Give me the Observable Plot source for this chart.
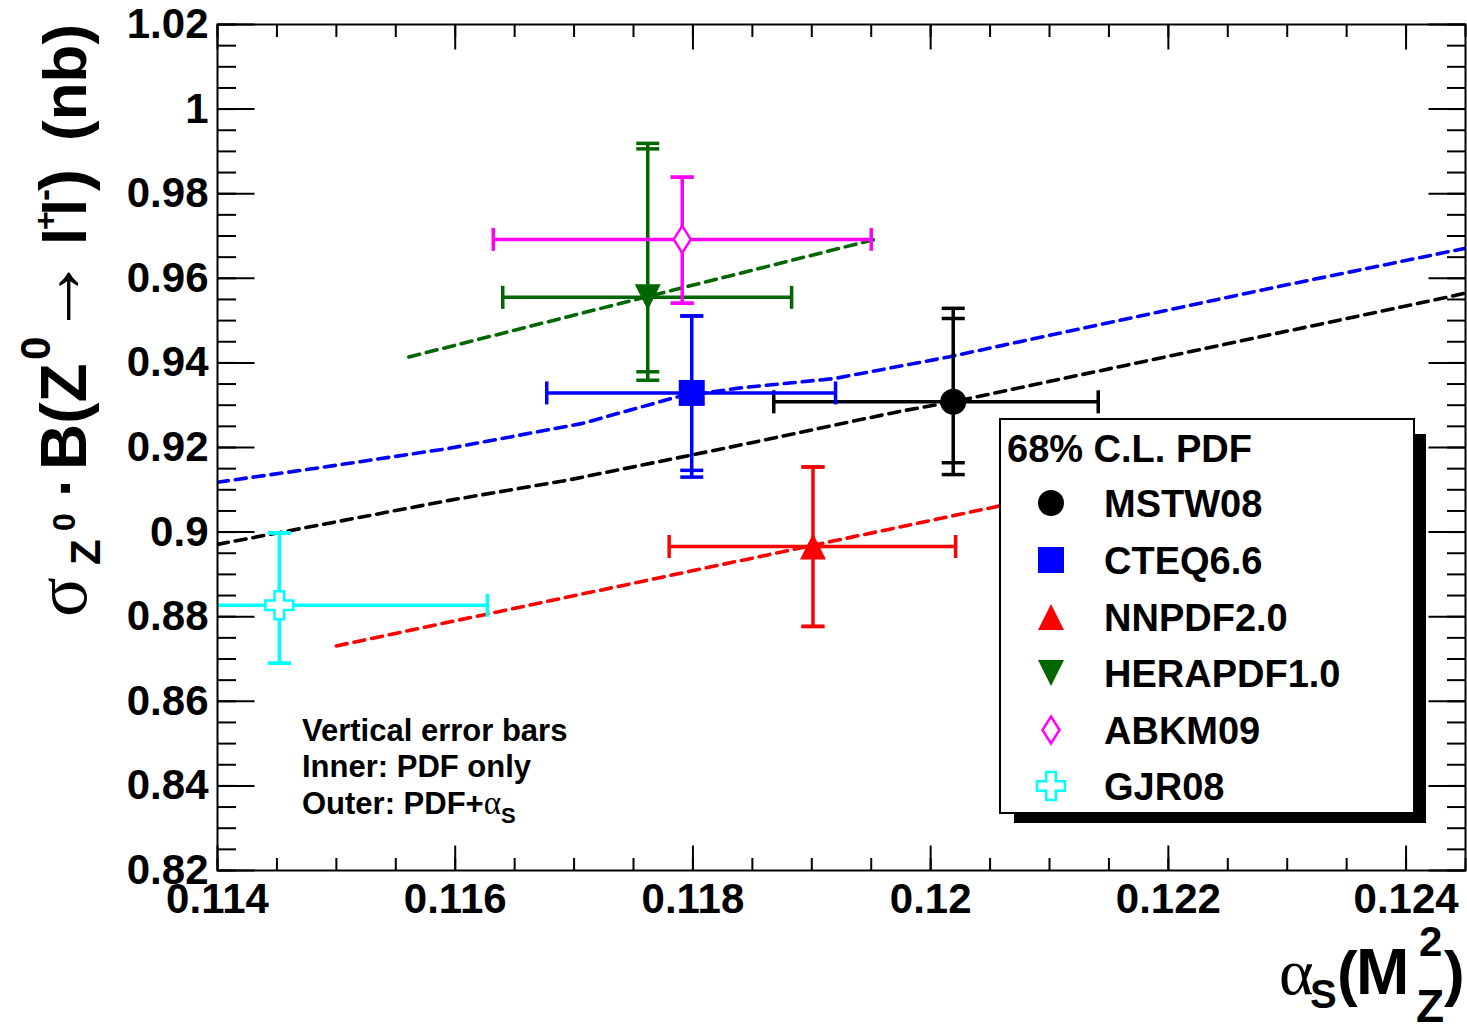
<!DOCTYPE html>
<html><head><meta charset="utf-8">
<script src="https://cdn.jsdelivr.net/npm/d3@7"></script>
<script src="https://cdn.jsdelivr.net/npm/@observablehq/plot@0.6"></script>
<style>body{margin:0;background:#fff;} #chart svg{display:block}</style>
</head><body><div id="chart"></div>
<script>
// ---- data ----
const pdfNames = ["MSTW08","CTEQ6.6","NNPDF2.0","HERAPDF1.0","ABKM09","GJR08"];
const pdfColors = ["#000000","#0000ff","#ff0000","#006600","#ff00ff","#00ffff"];
const alphaS = [0.12019,0.11799,0.11901,0.11762,0.11791,0.11452];
const alphaSLow = [0.11868,0.11677,0.11780,0.11640,0.11632,0.11277];
const alphaSHigh = [0.12141,0.11920,0.12021,0.11883,0.11950,0.11627];
const sigmaZ = [0.9308,0.9329,0.8966,0.9555,0.9692,0.8827];
const sigmaInnerLow = [0.9164,0.9146,0.8777,0.9379,0.9541,0.8690];
const sigmaInnerHigh = [0.9505,0.9511,0.9154,0.9906,0.9839,0.8998];
const sigmaOuterLow = [0.9136,0.9130,0.8777,0.9359,0.9541,0.8690];
const sigmaOuterHigh = [0.9529,0.9511,0.9154,0.9919,0.9839,0.8998];

const mstwCurveAlpha = [0.1140,0.11595,0.11695,0.11830,0.11975,0.12019,0.12436,0.1245];
const mstwCurveSigma = [0.8971,0.9075,0.9123,0.9200,0.9286,0.9308,0.9556,0.9565];
const cteqCurveAlpha = [0.1140,0.11483,0.11595,0.11707,0.11786,0.11840,0.11919,0.12015,0.12278,0.1245];
const cteqCurveSigma = [0.9118,0.9151,0.9198,0.9257,0.9319,0.9341,0.9363,0.9414,0.9572,0.9671];
const nnpdfCurveAlpha = [0.1150,0.1206,0.1210];
const nnpdfCurveSigma = [0.8731,0.9063,0.9088];
const heraCurveAlpha = [0.11561,0.11762,0.11956];
const heraCurveSigma = [0.9414,0.9557,0.9694];

const xMajorTicks = [0.114,0.116,0.118,0.120,0.122,0.124];
const xTickLabels = ["0.114","0.116","0.118","0.12","0.122","0.124"];
const yMajorTicks = [0.82,0.84,0.86,0.88,0.90,0.92,0.94,0.96,0.98,1.00,1.02];
const yTickLabels = ["0.82","0.84","0.86","0.88","0.9","0.92","0.94","0.96","0.98","1","1.02"];
const xMinorTicks = d3.range(0,22).map(i => 0.114 + i*0.0005);
const yMinorTicks = d3.range(0,41).map(i => 0.82 + i*0.005);

const legendHeader = "68% C.L. PDF";
const noteLines = ["Vertical error bars","Inner: PDF only","Outer: PDF+"];

// ---- symbols ----
const symCircle = {draw(c){ c.moveTo(13,0); c.arc(0,0,13,0,2*Math.PI); c.closePath(); }};
const symSquare = {draw(c){ c.moveTo(-13,-13); c.lineTo(13,-13); c.lineTo(13,13); c.lineTo(-13,13); c.closePath(); }};
const symTriUp = {draw(c){ c.moveTo(0,-13); c.lineTo(13,13); c.lineTo(-13,13); c.closePath(); }};
const symTriDown = {draw(c){ c.moveTo(0,13); c.lineTo(13,-13); c.lineTo(-13,-13); c.closePath(); }};
const symDiamond = {draw(c){ c.moveTo(0,-13.5); c.lineTo(8.5,0); c.lineTo(0,13.5); c.lineTo(-8.5,0); c.closePath(); }};
const symCross = {draw(c){ const a=14,b=4.8; c.moveTo(-b,-a); c.lineTo(b,-a); c.lineTo(b,-b); c.lineTo(a,-b); c.lineTo(a,b); c.lineTo(b,b); c.lineTo(b,a); c.lineTo(-b,a); c.lineTo(-b,b); c.lineTo(-a,b); c.lineTo(-a,-b); c.lineTo(-b,-b); c.closePath(); }};
const markerStyles = [
  {symbol: symCircle, fill: "#000000", stroke: "none", sw: 0},
  {symbol: symSquare, fill: "#0000ff", stroke: "none", sw: 0},
  {symbol: symTriUp, fill: "#ff0000", stroke: "none", sw: 0},
  {symbol: symTriDown, fill: "#006600", stroke: "none", sw: 0},
  {symbol: symDiamond, fill: "white", stroke: "#ff00ff", sw: 2.5},
  {symbol: symCross, fill: "white", stroke: "#00ffff", sw: 2.5}
];
const capH = {draw(c){ c.moveTo(-11.5,0); c.lineTo(11.5,0); }};
const capV = {draw(c){ c.moveTo(0,-11.5); c.lineTo(0,11.5); }};
const tick = (dx,dy) => ({draw(c){ c.moveTo(0,0); c.lineTo(dx,dy); }});

const points = pdfNames.map((name,i) => ({
  name, color: pdfColors[i], x: alphaS[i], xlo: alphaSLow[i], xhi: alphaSHigh[i],
  y: sigmaZ[i], inLo: sigmaInnerLow[i], inHi: sigmaInnerHigh[i], outLo: sigmaOuterLow[i], outHi: sigmaOuterHigh[i]
}));
const curves = [
  {a: mstwCurveAlpha, s: mstwCurveSigma, color: pdfColors[0]},
  {a: cteqCurveAlpha, s: cteqCurveSigma, color: pdfColors[1]},
  {a: nnpdfCurveAlpha, s: nnpdfCurveSigma, color: pdfColors[2]},
  {a: heraCurveAlpha, s: heraCurveSigma, color: pdfColors[3]}
];

const FONT = "Liberation Sans, Arial, Helvetica, sans-serif";
const SERIF = "Liberation Serif, DejaVu Serif, serif";
const marks = [];
curves.forEach(c => marks.push(Plot.line(d3.zip(c.a, c.s), {x: d => d[0], y: d => d[1], stroke: c.color, strokeWidth: 3.6, strokeDasharray: "11,7", clip: true})));
points.forEach((p,i) => {
  marks.push(Plot.ruleY([p], {y: "y", x1: "xlo", x2: "xhi", stroke: p.color, strokeWidth: 3.5, clip: true}));
  marks.push(Plot.ruleX([p], {x: "x", y1: "outLo", y2: "outHi", stroke: p.color, strokeWidth: 3.5, clip: true}));
  marks.push(Plot.dot([p.inLo, p.inHi, p.outLo, p.outHi], {x: () => p.x, y: d => d, symbol: capH, stroke: p.color, fill: "none", strokeWidth: 3.5, clip: true}));
  marks.push(Plot.dot([p.xlo, p.xhi], {x: d => d, y: () => p.y, symbol: capV, stroke: p.color, fill: "none", strokeWidth: 3.5, clip: true}));
});
points.forEach((p,i) => {
  const m = markerStyles[i];
  marks.push(Plot.dot([p], {x: "x", y: "y", symbol: m.symbol, fill: m.fill, stroke: m.stroke, strokeWidth: m.sw}));
});
// ticks (inside, all four sides)
const tk = {stroke: "black", fill: "none", strokeWidth: 2};
marks.push(Plot.dot(xMajorTicks, {x: d => d, y: () => 0.82, symbol: tick(0,-25), ...tk}));
marks.push(Plot.dot(xMinorTicks, {x: d => d, y: () => 0.82, symbol: tick(0,-12.5), ...tk}));
marks.push(Plot.dot(xMajorTicks, {x: d => d, y: () => 1.02, symbol: tick(0,25), ...tk}));
marks.push(Plot.dot(xMinorTicks, {x: d => d, y: () => 1.02, symbol: tick(0,12.5), ...tk}));
marks.push(Plot.dot(yMajorTicks, {x: () => 0.114, y: d => d, symbol: tick(37,0), ...tk}));
marks.push(Plot.dot(yMinorTicks, {x: () => 0.114, y: d => d, symbol: tick(18.5,0), ...tk}));
marks.push(Plot.dot(yMajorTicks, {x: () => 0.1245, y: d => d, symbol: tick(-37,0), ...tk}));
marks.push(Plot.dot(yMinorTicks, {x: () => 0.1245, y: d => d, symbol: tick(-18.5,0), ...tk}));
marks.push(Plot.frame({stroke: "black", strokeWidth: 2}));
marks.push(Plot.text(xMajorTicks, {x: d => d, y: () => 0.82, text: (d,i) => xTickLabels[i], dy: 42, lineAnchor: "bottom", fontSize: 42, fontWeight: "bold", fontFamily: FONT, fill: "black"}));
marks.push(Plot.text(yMajorTicks, {x: () => 0.114, y: d => d, text: (d,i) => yTickLabels[i], dx: -9, textAnchor: "end", lineAnchor: "middle", fontSize: 42, fontWeight: "bold", fontFamily: FONT, fill: "black"}));

const plot = Plot.plot({
  width: 1467, height: 1029,
  marginLeft: 217, marginRight: 2, marginTop: 24, marginBottom: 159,
  x: {domain: [0.114, 0.1245], axis: null},
  y: {domain: [0.82, 1.02], axis: null},
  style: {background: "white", overflow: "visible"},
  marks
});
document.getElementById("chart").appendChild(plot);

// ---- overlay: legend, notes, axis titles ----
const svg = d3.select(plot);
// parts placed at explicit offsets (x along the text, y = baseline shift)
function rich(sel, parts) {
  const t = sel.append("text").attr("fill", "black").attr("text-anchor", "start");
  parts.forEach(p => {
    t.append("tspan").text(p.t)
      .attr("x", p.x).attr("y", p.y || 0)
      .attr("font-size", p.size)
      .attr("font-weight", p.serif ? "normal" : "bold")
      .attr("font-family", p.serif ? SERIF : FONT);
  });
  return t;
}
function label(x, y, size, str) {
  return svg.append("text").attr("x", x).attr("y", y).attr("text-anchor", "start")
    .attr("font-family", FONT).attr("font-weight", "bold").attr("font-size", size).attr("fill", "black").text(str);
}
// notes
label(302, 741, 31, noteLines[0]);
label(302, 777, 31, noteLines[1]);
const n3 = label(302, 814, 31, noteLines[2]);
n3.append("tspan").attr("font-family", SERIF).attr("font-weight", "normal").attr("font-size", 33).text("\u03b1");
n3.append("tspan").attr("font-size", 22).attr("dy", 9).text("S");
// legend
svg.append("rect").attr("x", 1014).attr("y", 434).attr("width", 412).attr("height", 389).attr("fill", "black");
svg.append("rect").attr("x", 1000).attr("y", 419).attr("width", 414).attr("height", 394).attr("fill", "white").attr("stroke", "black").attr("stroke-width", 2);
label(1007, 448 + 13.6, 38, legendHeader);
const rowY = [503, 560, 617, 673, 730, 786];
pdfNames.forEach((n,i) => {
  const m = markerStyles[i];
  svg.append("path").attr("transform", `translate(1051,${rowY[i]})`).attr("d", d3.symbol(m.symbol)())
    .attr("fill", m.fill).attr("stroke", m.stroke).attr("stroke-width", m.sw);
  label(1104, rowY[i] + 13.6, 38, n);
});
// x title
rich(svg.append("g").attr("transform", "translate(0,994)"), [
  {t: "\u03b1", size: 66, serif: true, x: 1279},
  {t: "S", size: 40, x: 1310, y: 14},
  {t: "(", size: 62, x: 1337},
  {t: "M", size: 64, x: 1356},
  {t: "2", size: 42, x: 1419, y: -38},
  {t: "Z", size: 46, x: 1416, y: 28},
  {t: ")", size: 62, x: 1444}
]);
// y title (rotated; x = distance up from the bottom end, y = shift to the right)
rich(svg.append("g").attr("transform", "translate(86,615) rotate(-90)"), [
  {t: "\u03c3", size: 74, serif: true, x: -2},
  {t: "Z", size: 42, x: 50, y: 14},
  {t: "0", size: 32, x: 84, y: -11},
  {t: "\u00b7", size: 62, x: 118},
  {t: "B(Z", size: 64, x: 145},
  {t: "0", size: 42, x: 255, y: -36},
  {t: "\u2192", size: 80, serif: true, x: 279, y: -4},
  {t: "l", size: 62, x: 370},
  {t: "+", size: 32, x: 385, y: -30},
  {t: "l", size: 62, x: 399},
  {t: "-", size: 36, x: 414, y: -30},
  {t: ")", size: 66, x: 424},
  {t: "(nb)", size: 62, x: 474}
]);
</script></body></html>
